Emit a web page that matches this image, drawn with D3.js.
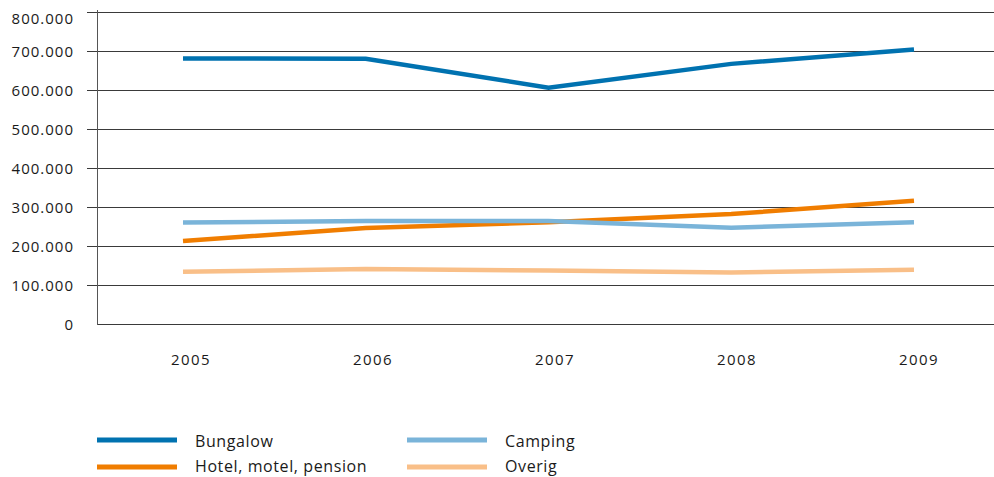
<!DOCTYPE html>
<html><head><meta charset="utf-8">
<script src="https://cdn.jsdelivr.net/npm/d3@7/dist/d3.min.js"></script>
<style>body{margin:0;background:#fff;} svg{display:block;} text{font-family:"Open Sans","Noto Sans",sans-serif;fill:#1a1a1a;}</style>
</head><body><svg id="c" width="994" height="477"></svg>
<script>
const years = ["2005","2006","2007","2008","2009"];
const yTicks = [0,100000,200000,300000,400000,500000,600000,700000,800000];
const bungalow = [681000,680000,606000,667000,704000];
const camping = [260000,264000,264000,247000,261000];
const hotel = [213000,246000,261000,282000,316000];
const overig = [134000,141000,137000,132000,139000];
const seriesNames = ["Bungalow","Camping","Hotel, motel, pension","Overig"];
const seriesColors = ["#0072b0","#7ab4d9","#f07d00","#f9bf88"];
const seriesValues = [bungalow,camping,hotel,overig];

const svg = d3.select("#c");
const y = d3.scaleLinear().domain([0,800000]).range([324,12]);
const x = d3.scalePoint().domain(years).range([183,914]);
const xl = d3.scalePoint().domain(years).range([191,919]);
const fmt = v => d3.format(",")(v).replace(/,/g,".");

// gridlines
svg.append("g").selectAll("line").data(yTicks).join("line")
  .attr("x1", d => d===0 ? 97 : 87).attr("x2", 994)
  .attr("y1", d => Math.round(y(d))+0.5).attr("y2", d => Math.round(y(d))+0.5)
  .attr("stroke", "#3a3a3a").attr("stroke-width", 1.2);
// vertical axis
svg.append("line").attr("x1",97.5).attr("x2",97.5).attr("y1",10).attr("y2",325)
  .attr("stroke","#555").attr("stroke-width",1);
// y labels
svg.append("g").selectAll("text").data(yTicks).join("text")
  .attr("x",74).attr("y", d => Math.max(y(d)+5.5, 24)).attr("text-anchor","end")
  .attr("font-size","15px").attr("letter-spacing","1px").text(d => fmt(d));
// x labels
svg.append("g").selectAll("text").data(years).join("text")
  .attr("x", d => xl(d)).attr("y", 365).attr("text-anchor","middle")
  .attr("font-size","15px").attr("letter-spacing","1.4px").text(d => d);

const line = d3.line().x((d,i)=>x(years[i])).y(d=>y(d));
const order = [2,1,3,0];
order.forEach(i => {
  svg.append("path").datum(seriesValues[i]).attr("d", line)
    .attr("fill","none").attr("stroke", seriesColors[i]).attr("stroke-width",4.5)
    .attr("stroke-linejoin","miter");
});

// legend
const legPos = [[97,440,446.5],[407,440,446.5],[97,467,472],[407,467,472]];
seriesNames.forEach((n,i) => {
  const [lx,ly,ty] = legPos[i];
  svg.append("line").attr("x1",lx).attr("x2",lx+80).attr("y1",ly).attr("y2",ly)
    .attr("stroke",seriesColors[i]).attr("stroke-width",5);
  svg.append("text").attr("x", lx+98).attr("y", ty)
    .attr("font-size","16px").attr("letter-spacing","0.6px").text(n);
});
</script></body></html>
